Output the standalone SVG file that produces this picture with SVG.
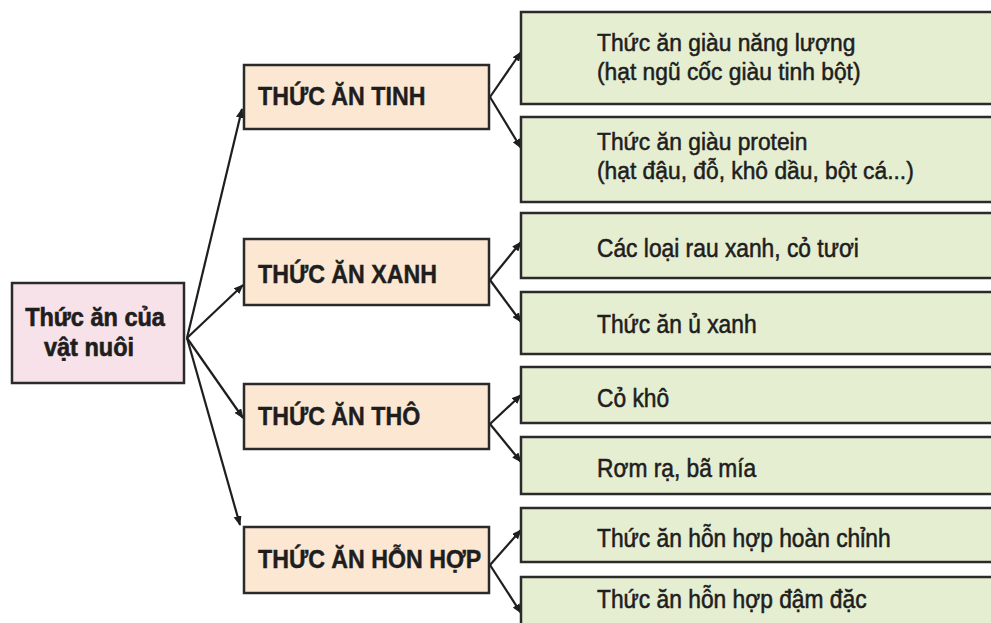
<svg xmlns="http://www.w3.org/2000/svg" width="991" height="623" viewBox="0 0 991 623">
<defs>
<marker id="ah" markerWidth="10" markerHeight="8" refX="9" refY="4" orient="auto" markerUnits="userSpaceOnUse">
<path d="M0,0 L10,4 L0,8 z" fill="#1e1e1e"/>
</marker>
<style>
.root{fill:#f8e2ea;stroke:#2a2a2a;stroke-width:2.5}
.mid{fill:#fce7d3;stroke:#2a2a2a;stroke-width:2.5}
.leaf{fill:#e6eed2;stroke:#2a2a2a;stroke-width:2.5}
.tr{font-family:"Liberation Sans",Arial,sans-serif;font-weight:bold;font-size:23.5px;fill:#1e1e1e;text-anchor:middle;stroke:#1e1e1e;stroke-width:0.6}
.tm{font-family:"Liberation Sans",Arial,sans-serif;font-weight:bold;font-size:23.2px;fill:#1e1e1e;stroke:#1e1e1e;stroke-width:0.4}
.tl{font-family:"Liberation Sans",Arial,sans-serif;font-size:22.8px;fill:#1e1e1e;stroke:#1e1e1e;stroke-width:0.5}
.c{stroke:#1e1e1e;stroke-width:2.2;fill:none;marker-end:url(#ah)}
</style>
</defs>
<rect width="991" height="623" fill="#ffffff"/>
<g id="connectors">
<line class="c" x1="187" y1="338" x2="242" y2="109"/>
<line class="c" x1="187" y1="338" x2="243" y2="285"/>
<line class="c" x1="187" y1="338" x2="243" y2="418"/>
<line class="c" x1="187" y1="338" x2="240" y2="525"/>
<line class="c" x1="490" y1="97" x2="521" y2="52"/>
<line class="c" x1="490" y1="97" x2="521" y2="148"/>
<line class="c" x1="490" y1="280" x2="521" y2="242"/>
<line class="c" x1="490" y1="280" x2="521" y2="322"/>
<line class="c" x1="490" y1="424" x2="521" y2="395"/>
<line class="c" x1="490" y1="424" x2="521" y2="462"/>
<line class="c" x1="490" y1="565" x2="521" y2="530"/>
<line class="c" x1="490" y1="565" x2="521" y2="613"/>
</g>
<g id="root">
<rect class="root" x="12" y="283" width="172" height="100"/>
<text class="tr" transform="translate(95,326) scale(1,1.12)">Thức ăn của</text>
<text class="tr" transform="translate(89,356) scale(1,1.12)">vật nuôi</text>
</g>
<g id="tinh">
<rect class="mid" x="244" y="65" width="245" height="64"/>
<text class="tm" transform="translate(258,105) scale(1,1.15)">THỨC ĂN TINH</text>
</g>
<g id="xanh">
<rect class="mid" x="244" y="239" width="245" height="66"/>
<text class="tm" transform="translate(258,283) scale(1,1.15)">THỨC ĂN XANH</text>
</g>
<g id="tho">
<rect class="mid" x="244" y="384" width="245" height="65"/>
<text class="tm" transform="translate(258,425) scale(1,1.15)">THỨC ĂN THÔ</text>
</g>
<g id="honhop">
<rect class="mid" x="244" y="527" width="245" height="66"/>
<text class="tm" transform="translate(258,568) scale(1,1.15)">THỨC ĂN HỖN HỢP</text>
</g>
<g id="leaf1">
<rect class="leaf" x="521" y="12" width="480" height="92"/>
<text class="tl" transform="translate(597,51) scale(1,1.08)">Thức ăn giàu năng lượng</text>
<text class="tl" transform="translate(597,80) scale(1,1.08)">(hạt ngũ cốc giàu tinh bột)</text>
</g>
<g id="leaf2">
<rect class="leaf" x="521" y="117" width="480" height="85"/>
<text class="tl" transform="translate(597,150) scale(1,1.08)">Thức ăn giàu protein</text>
<text class="tl" transform="translate(597,179) scale(1,1.08)">(hạt đậu, đỗ, khô dầu, bột cá...)</text>
</g>
<g id="leaf3">
<rect class="leaf" x="521" y="213" width="480" height="65"/>
<text class="tl" transform="translate(597,257) scale(1,1.15)">Các loại rau xanh, cỏ tươi</text>
</g>
<g id="leaf4">
<rect class="leaf" x="521" y="292" width="480" height="62"/>
<text class="tl" transform="translate(597,333) scale(1,1.15)">Thức ăn ủ xanh</text>
</g>
<g id="leaf5">
<rect class="leaf" x="521" y="367" width="480" height="56"/>
<text class="tl" transform="translate(597,407) scale(1,1.15)">Cỏ khô</text>
</g>
<g id="leaf6">
<rect class="leaf" x="521" y="437" width="480" height="57"/>
<text class="tl" transform="translate(597,477) scale(1,1.15)">Rơm rạ, bã mía</text>
</g>
<g id="leaf7">
<rect class="leaf" x="521" y="508" width="480" height="54"/>
<text class="tl" transform="translate(597,547) scale(1,1.15)">Thức ăn hỗn hợp hoàn chỉnh</text>
</g>
<g id="leaf8">
<rect class="leaf" x="521" y="577" width="480" height="60"/>
<text class="tl" transform="translate(597,608) scale(1,1.15)">Thức ăn hỗn hợp đậm đặc</text>
</g>
</svg>
